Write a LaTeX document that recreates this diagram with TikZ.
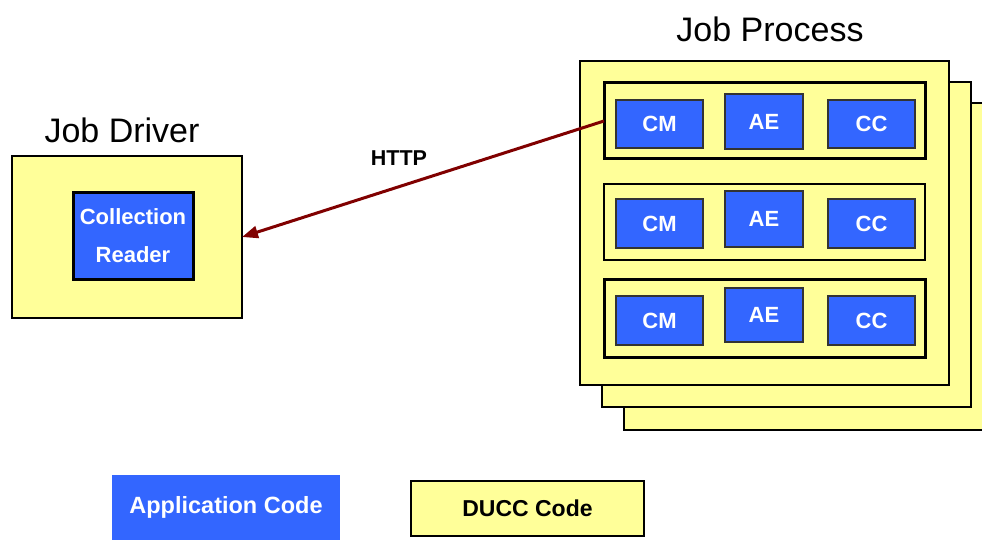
\documentclass[tikz,border=0pt]{standalone}
\usepackage{fontspec}
\setmainfont{Liberation Sans}
\usetikzlibrary{arrows.meta}
\definecolor{appblue}{HTML}{3366FF}
\definecolor{duccyellow}{HTML}{FFFF99}
\definecolor{httpred}{HTML}{800000}

\begin{document}
\begin{tikzpicture}[x=1pt,y=-1pt,
    every node/.style={inner sep=0pt,outer sep=0pt},
    ducc/.style={draw,fill=duccyellow,line width=2.5pt,rectangle},
    app/.style={draw=black!80,fill=appblue,line width=1.5pt,rectangle,
      text=white,font=\bfseries\fontsize{22}{24}\selectfont},
    title/.style={font=\fontsize{34}{38}\selectfont}]
  \useasboundingbox (0,0) rectangle (982,540);

  % job driver
  \node[title] (jdtitle) at (122,130) {Job Driver};
  \node[ducc,minimum width=230,minimum height=162] (jd) at (127,237) {};
  \node[app,draw=black,line width=3pt,minimum width=120,minimum height=86,
    align=center,font=\bfseries\fontsize{22}{38}\selectfont] (cr) at (133,236)
    {Collection\\Reader};

  % job process, three stacked copies
  \node[title] (jptitle) at (770,29) {Job Process};
  \node[ducc,minimum width=380,minimum height=327] (jp3) at (814,266.5) {};
  \node[ducc,minimum width=369,minimum height=325] (jp2) at (786.5,244.5) {};
  \node[ducc,minimum width=369,minimum height=324] (jp1) at (764.5,223) {};

  \node[ducc,line width=3pt,minimum width=321,minimum height=76] (row1) at (764.5,121) {};
  \node[ducc,line width=2pt,minimum width=321,minimum height=76] (row2) at (764.5,222) {};
  \node[ducc,line width=3pt,minimum width=321,minimum height=78] (row3) at (764.5,318) {};

  \node[app,minimum width=87,minimum height=48] (cm1) at (659.5,124) {CM};
  \node[app,minimum width=78,minimum height=55] (ae1) at (764,121.5) {AE};
  \node[app,minimum width=87,minimum height=48] (cc1) at (871.5,124) {CC};

  \node[app,minimum width=87,minimum height=49] (cm2) at (659.5,223.5) {CM};
  \node[app,minimum width=78,minimum height=56] (ae2) at (764,219) {AE};
  \node[app,minimum width=87,minimum height=49] (cc2) at (871.5,223.5) {CC};

  \node[app,minimum width=87,minimum height=49] (cm3) at (659.5,320.5) {CM};
  \node[app,minimum width=78,minimum height=54] (ae3) at (764,315) {AE};
  \node[app,minimum width=87,minimum height=49] (cc3) at (871.5,320.5) {CC};

  % http link
  \node[font=\bfseries\fontsize{21.5}{24}\selectfont] (http) at (399,158) {HTTP};
  \draw[httpred,line width=3pt,-{Triangle[length=16pt,width=12pt]}]
    (row1.west) -- (jd.east);

  % legend
  \node[app,draw=none,minimum width=228,minimum height=70,text depth=10pt,
    font=\bfseries\fontsize{23.5}{26}\selectfont]
    (appkey) at (226,510) {Application Code};
  \node[ducc,line width=1.5pt,minimum width=233,minimum height=55,
    font=\bfseries\fontsize{23}{26}\selectfont] (duccKey) at (527.5,508.5) {DUCC Code};
\end{tikzpicture}
\end{document}
